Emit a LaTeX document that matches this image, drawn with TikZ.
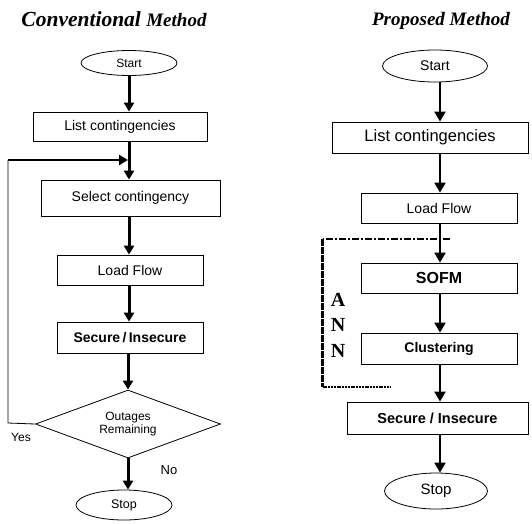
\documentclass[tikz,border=0pt]{standalone}
\usepackage{fontspec}
\setmainfont{Liberation Sans}
\newfontfamily\titlefont{Liberation Serif}
\usetikzlibrary{arrows.meta,shapes.geometric}

\begin{document}
\begin{tikzpicture}[x=1pt, y=-1pt, line cap=butt, line join=miter,
    box/.style={draw, line width=0.8pt, inner sep=0pt, minimum width=#1},
    term/.style={draw, ellipse, line width=0.8pt, inner sep=0pt},
    arr/.style={line width=3pt, -{Triangle[width=10pt,length=9pt]}},
    arrb/.style={line width=2pt, -{Triangle[width=11pt,length=10pt]}},
    fs/.style={font=\fontsize{#1}{#1}\selectfont}]

    \useasboundingbox (0,0) rectangle (532,523);

    % titles
    \node[anchor=base] (tleft) at (114,26) {\titlefont\bfseries\itshape\fontsize{21.5}{22}\selectfont Conventional \fontsize{19}{20}\selectfont Method};
    \node[anchor=base] (tright) at (441,25) {\titlefont\bfseries\itshape\fontsize{19}{20}\selectfont Proposed Method};

    % conventional method
    \node[term, minimum width=96, minimum height=25, fs=12] (start) at (129,63) {Start};
    \node[box=174, minimum height=29, fs=14] (list) at (120,126.5) {List contingencies};
    \node[box=179, minimum height=36, fs=14] (sel) at (130.5,198) {Select contingency};
    \node[box=146, minimum height=30, fs=14] (lf) at (130,270) {Load Flow};
    \node[box=146, minimum height=31, font=\fontsize{14}{14}\selectfont\bfseries] (sec) at (130,337.5) {Secure\,/\,Insecure};
    \node[draw, diamond, line width=0.8pt, inner sep=0pt, aspect=2.7, minimum width=185, minimum height=68, align=center, font=\fontsize{12}{13}\selectfont] (dia) at (128,424) {Outages\\Remaining};
    \node[term, minimum width=96, minimum height=30, fs=12.5] (stop) at (124,505) {Stop};
    \node[fs=12] (yes) at (21,437) {Yes};
    \node[fs=13] (no) at (169,470) {No};

    \coordinate (loopB) at (8,423);
    \coordinate (loopT) at (8,160);

    \draw[arr] (start.south -| 129,0) -- (list.north -| 129,0);
    \draw[arr] (list.south -| 129,0) -- (sel.north -| 129,0);
    \draw[arr] (sel.south -| 129,0) -- (lf.north -| 129,0);
    \draw[arr] (lf.south -| 129,0) -- (sec.north -| 129,0);
    \draw[arr] (sec.south -| 128,0) -- (dia.north);
    \draw[arr] (dia.south) -- (stop.north -| dia.south);
    \draw[line width=0.8pt] (dia.west) -- (loopB) -- (loopT);
    \draw[line width=2pt, -{Triangle[width=10pt,length=9pt]}] (loopT) -- (loopT -| 128,0);

    % proposed method
    \node[term, minimum width=105, minimum height=32, fs=14] (start2) at (435,66) {Start};
    \node[box=196, minimum height=31, fs=16.5] (list2) at (430,137.5) {List contingencies};
    \node[box=156, minimum height=30, fs=14] (lf2) at (439,208) {Load Flow};
    \node[box=156, minimum height=30, font=\fontsize{16}{16}\selectfont\bfseries] (sofm) at (439,278) {SOFM};
    \node[box=156, minimum height=31, font=\fontsize{14}{14}\selectfont\bfseries] (clus) at (439,348.5) {Clustering};
    \node[box=181, minimum height=32, font=\fontsize{14.5}{14.5}\selectfont\bfseries] (sec2) at (437.5,418) {Secure / Insecure};
    \node[term, minimum width=103, minimum height=36, fs=15] (stop2) at (436,491) {Stop};

    \draw[arrb] (start2.south -| 440,0) -- (list2.north -| 440,0);
    \draw[arrb] (list2.south -| 440,0) -- (lf2.north -| 440,0);
    \draw[arrb] (lf2.south -| 440,0) -- (sofm.north -| 440,0);
    \draw[arrb] (sofm.south -| 440,0) -- (clus.north -| 440,0);
    \draw[arrb] (clus.south -| 440,0) -- (sec2.north -| 440,0);
    \draw[arrb] (sec2.south -| 440,0) -- (stop2.north -| 440,0);

    % ANN bracket
    \coordinate (annTR) at (450,239);
    \coordinate (annTL) at (322.5,239);
    \coordinate (annBL) at (322.5,387);
    \coordinate (annBR) at (391,387);
    \draw[line width=1.6pt, dash pattern=on 7pt off 2pt on 2pt off 2pt] (annTR) -- (annTL);
    \draw[line width=3pt, dash pattern=on 7pt off 1pt] (annTL) -- (annBL);
    \draw[line width=2.2pt, dash pattern=on 2pt off 0.8pt] (annBL) -- (annBR);
    \node[align=center, font=\titlefont\bfseries\fontsize{20}{25.5}\selectfont] (ann) at (338,325) {A\\N\\N};

\end{tikzpicture}
\end{document}
